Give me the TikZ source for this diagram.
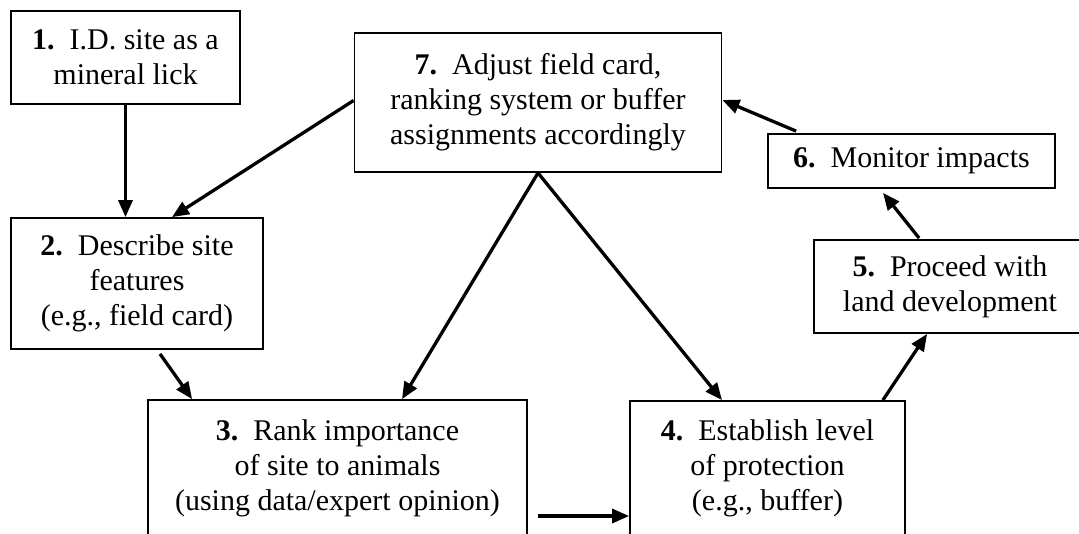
\documentclass[tikz,border=0pt]{standalone}
\usepackage{fontspec}
\setmainfont{Liberation Serif}
\usetikzlibrary{arrows.meta,calc}
\begin{document}
\begin{tikzpicture}[x=1pt,y=-1pt,
  box/.style={draw=black,line width=1.8pt,rectangle,inner sep=0pt,align=center,
    font=\fontsize{30pt}{35pt}\selectfont},
  arr/.style={line width=3.3pt,-{Triangle[length=17pt,width=14pt]}}]
\useasboundingbox (0,0) rectangle (1079,533);
\clip (0,0) rectangle (1079,533);
\fill[white] (0,0) rectangle (1079,533);
\node[box,minimum width=229pt,minimum height=93pt] (n1) at (125.5,57.5)
  {\textbf{1.}\ \ I.D. site as a\\mineral lick};
\node[box,minimum width=367pt,minimum height=139pt] (n7) at (538,102.5)
  {\textbf{7.}\ \ Adjust field card,\\ranking system or buffer\\assignments accordingly};
\node[box,minimum width=252pt,minimum height=131pt] (n2) at (137,283.5)
  {\textbf{2.}\ \ Describe site\\features\\(e.g., field card)};
\node[box,minimum width=379pt,minimum height=136pt] (n3) at (337.5,468)
  {\textbf{3.}\ \ Rank importance\\of site to animals\\(using data/expert opinion)};
\node[box,minimum width=275pt,minimum height=135pt] (n4) at (767.5,468.5)
  {\textbf{4.}\ \ Establish level\\of protection\\(e.g., buffer)};
\node[box,minimum width=272pt,minimum height=93pt] (n5) at (950,286.5)
  {\textbf{5.}\ \ Proceed with\\land development};
\node[box,minimum width=287pt,minimum height=54pt] (n6) at (911.5,161)
  {\textbf{6.}\ \ Monitor impacts};
% connectors
\draw[arr] (n1.south) -- (n1.south |- n2.north);
\draw[arr] ([shift={(0,-2)}]n7.west) -- ([xshift=35]n2.north);
\draw[arr] (n7.south) -- ([xshift=64.5]n3.north);
\draw[arr] (n7.south) -- ([xshift=-45.5]n4.north);
\draw[arr] ([shift={(23,4)}]n2.south) -- ([xshift=45]n3.north west);
\draw[arr] ([shift={(10,48)}]n3.east) -- ([shift={(0,47.5)}]n4.west);
\draw[arr] ([xshift=-23]n4.north east) -- ([xshift=114]n5.south west);
\draw[arr] ([shift={(106,-1)}]n5.north west) -- ([shift={(-28.5,4)}]n6.south);
\draw[arr] ([shift={(29,-2)}]n6.north west) -- ([shift={(0,-2.5)}]n7.east);
\end{tikzpicture}
\end{document}
